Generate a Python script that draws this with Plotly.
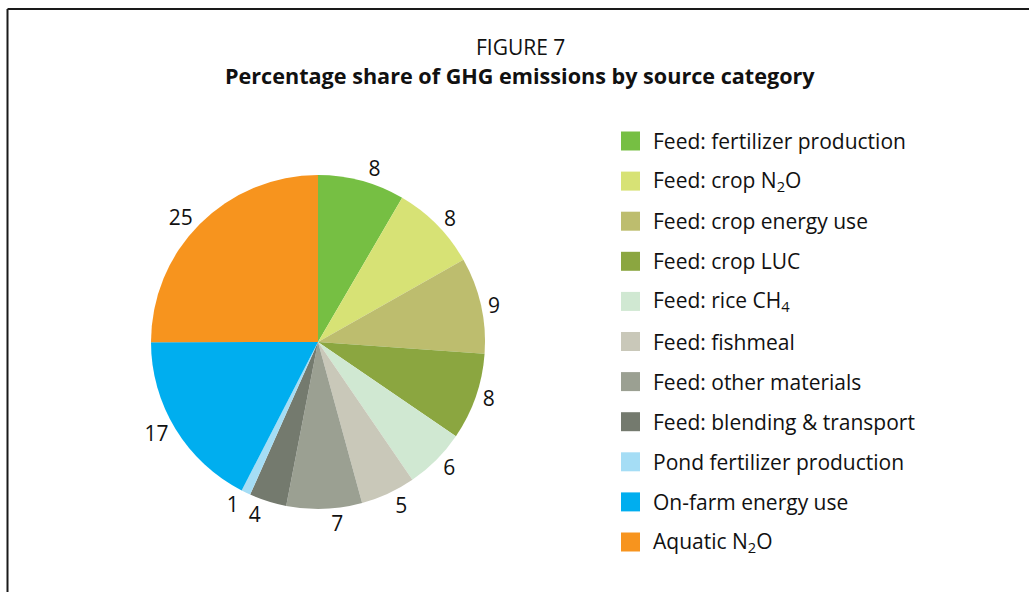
import plotly.graph_objects as go

W, H = 1029, 592

# Data (percentage share; labels show rounded values)
categories = [
    "Feed: fertilizer production",
    "Feed: crop N<sub>2</sub>O",
    "Feed: crop energy use",
    "Feed: crop LUC",
    "Feed: rice CH<sub>4</sub>",
    "Feed: fishmeal",
    "Feed: other materials",
    "Feed: blending & transport",
    "Pond fertilizer production",
    "On-farm energy use",
    "Aquatic N<sub>2</sub>O",
]
shares = [8.4, 8.4, 9.3, 8.4, 5.9, 5.3, 7.3, 3.6, 0.9, 17.4, 25.0]
colors = [
    "#76BF43", "#D7E275", "#BDBD6E", "#8BA640", "#D0E8D2", "#C9C8B9",
    "#9BA092", "#747A6E", "#A5DDF5", "#00AEEF", "#F7941E",
]
# slices whose value label is drawn by a second (label-only) pie layer,
# so that close labels are not pushed apart with leader lines
second_layer = [6, 7]

FONT = "Open Sans"
FS = 21

def px(x):
    return x / W

def py(y):
    return 1 - y / H

cx, cy, r = 318, 342, 167
domain = dict(x=[px(cx - r), px(cx + r)], y=[py(cy + r), py(cy - r)])

pos_a = ["none" if i in second_layer else "outside" for i in range(len(shares))]
pos_b = ["outside" if i in second_layer else "none" for i in range(len(shares))]

fig = go.Figure()
fig.add_trace(go.Pie(
    labels=categories,
    values=shares,
    sort=False,
    direction="clockwise",
    rotation=0,
    marker=dict(colors=colors, line=dict(width=0)),
    texttemplate="%{value:.0f}",
    textposition=pos_a,
    textfont=dict(family=FONT, size=FS, color="#111111"),
    showlegend=False,
    hoverinfo="label+value",
    domain=domain,
))
fig.add_trace(go.Pie(
    labels=categories,
    values=shares,
    sort=False,
    direction="clockwise",
    rotation=0,
    marker=dict(colors=["rgba(0,0,0,0)"] * len(shares), line=dict(width=0)),
    texttemplate="%{value:.0f}",
    textposition=pos_b,
    textfont=dict(family=FONT, size=FS, color="#111111"),
    showlegend=False,
    hoverinfo="skip",
    domain=domain,
))

shapes = [
    dict(type="line", xref="paper", yref="paper", x0=px(7.5), x1=1, y0=py(9), y1=py(9),
         line=dict(color="#1a1a1a", width=2)),
    dict(type="line", xref="paper", yref="paper", x0=px(7.5), x1=px(7.5), y0=py(9), y1=0,
         line=dict(color="#1a1a1a", width=2)),
]
annotations = [
    dict(text="FIGURE 7", x=px(520), y=py(47), xref="paper", yref="paper",
         showarrow=False, xanchor="center", yanchor="middle",
         font=dict(family=FONT, size=FS, color="#111111")),
    dict(text="<b>Percentage share of GHG emissions by source category</b>", x=px(520), y=py(75),
         xref="paper", yref="paper", showarrow=False, xanchor="center", yanchor="middle",
         font=dict(family=FONT, size=21.6, color="#111111")),
]

# Manual legend
y0, dy = 141, 40.1
for i, (lab, col) in enumerate(zip(categories, colors)):
    yc = y0 + i * dy
    shapes.append(dict(type="rect", xref="paper", yref="paper",
                       x0=px(621), x1=px(640), y0=py(yc + 9.5), y1=py(yc - 9.5),
                       fillcolor=col, line=dict(width=0)))
    annotations.append(dict(text=lab, x=px(651), y=py(yc), xref="paper", yref="paper",
                            showarrow=False, xanchor="left", yanchor="middle",
                            font=dict(family=FONT, size=FS, color="#111111")))

fig.update_layout(
    width=W, height=H, autosize=False,
    margin=dict(l=0, r=0, t=0, b=0),
    paper_bgcolor="white", plot_bgcolor="white",
    shapes=shapes, annotations=annotations,
)

fig.write_html("out.html", config={"displayModeBar": False},
               post_script="document.body.style.margin='0';")
